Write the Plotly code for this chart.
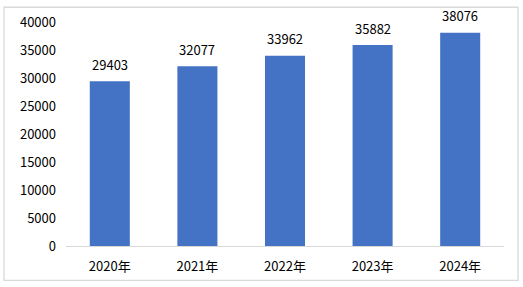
import plotly.graph_objects as go

categories = ["2020年", "2021年", "2022年", "2023年", "2024年"]
values = [29403, 32077, 33962, 35882, 38076]
y_ticks = [0, 5000, 10000, 15000, 20000, 25000, 30000, 35000, 40000]

W, H = 523, 287
ml, mr, mt, mb = 66, 19, 18, 41
pw, ph = W - ml - mr, H - mt - mb

font = dict(family="Noto Sans CJK SC, Noto Sans, sans-serif", size=13, color="#000000")

fig = go.Figure()
fig.add_trace(go.Bar(x=categories, y=values, marker=dict(color="#4472C4", line=dict(width=0)),
                     hoverinfo="skip"))

for c, v in zip(categories, values):
    fig.add_annotation(x=c, y=v, text=str(v), showarrow=False, yshift=17,
                       font=font, xref="x", yref="y")

# outer border
fig.add_shape(type="rect", xref="paper", yref="paper",
              x0=(4 - ml) / pw, x1=(518 - ml) / pw,
              y0=(H - mb - 281) / ph, y1=(H - mb - 3) / ph,
              line=dict(color="#d9d9d9", width=1.3), fillcolor="rgba(0,0,0,0)", layer="below")

fig.update_layout(
    width=W, height=H,
    margin=dict(l=ml, r=mr, t=mt, b=mb),
    paper_bgcolor="white", plot_bgcolor="white",
    bargap=0.543, showlegend=False, font=font,
    xaxis=dict(showline=True, linecolor="#d9d9d9", linewidth=1, ticks="", showgrid=False,
               ticklabelstandoff=8, tickfont=font),
    yaxis=dict(range=[0, 40000], tickvals=y_ticks, ticktext=[str(t) for t in y_ticks],
               showgrid=False, zeroline=False,
               showline=False, ticks="", ticklabelstandoff=9, tickfont=font),
)

fig.write_html("out.html")
